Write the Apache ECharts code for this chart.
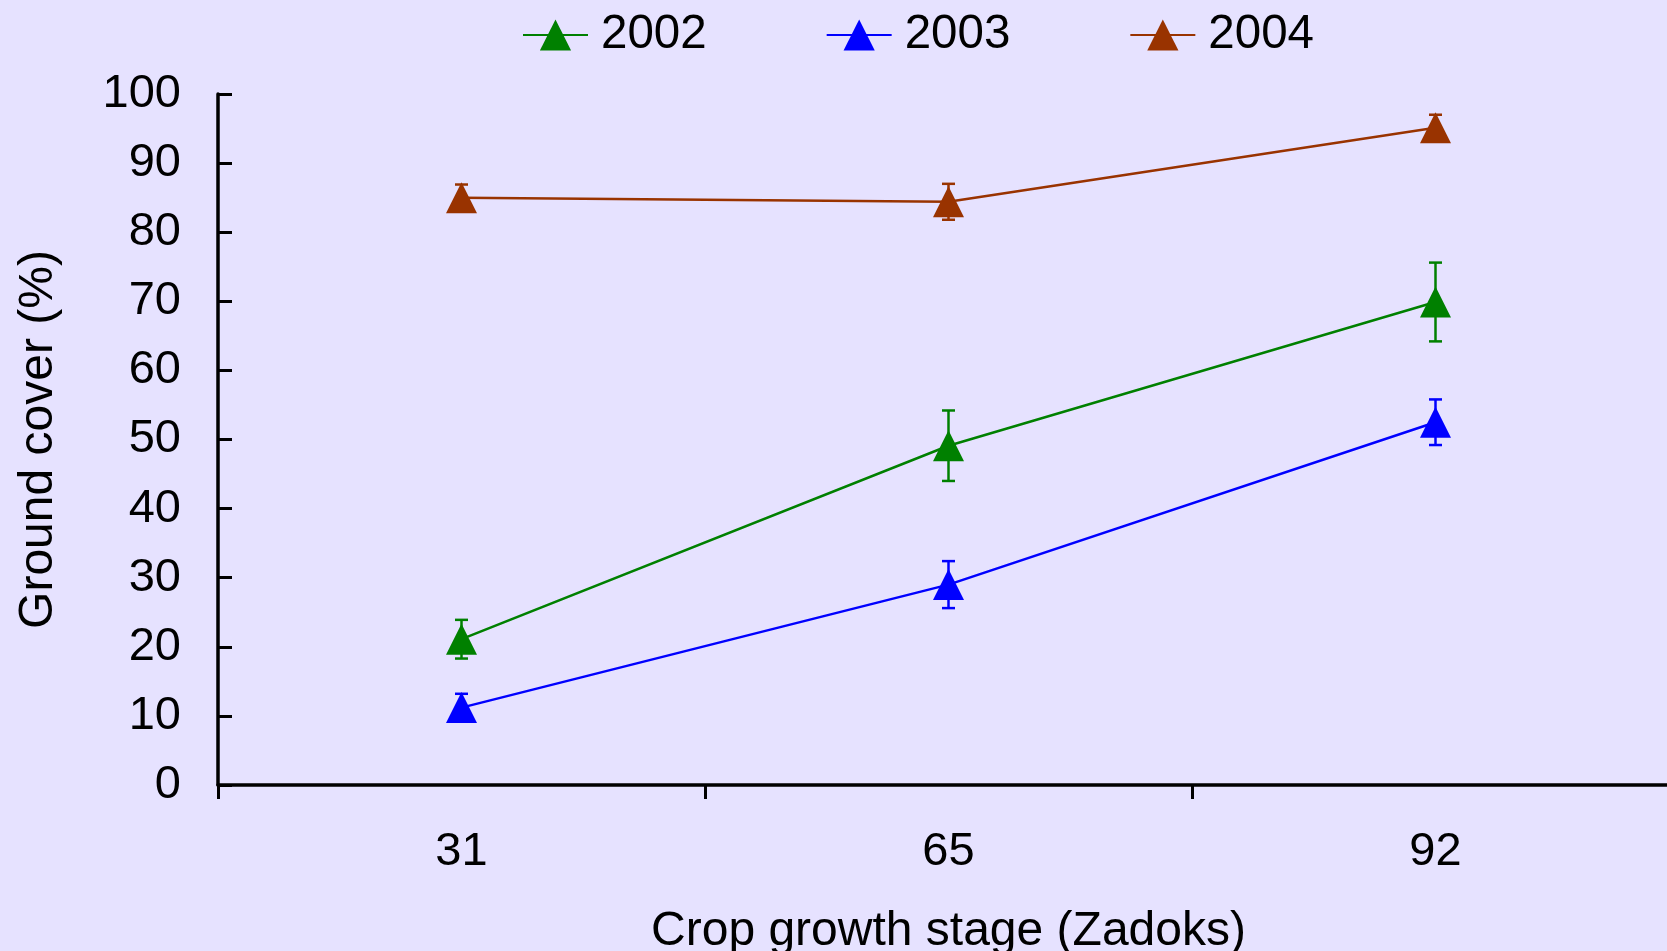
<!DOCTYPE html>
<html>
<head>
<meta charset="utf-8">
<title>Ground cover by crop growth stage</title>
<script src="https://cdn.jsdelivr.net/npm/echarts@6/dist/echarts.min.js"></script>
<style>
  html, body { margin: 0; padding: 0; background: #E6E2FF; }
  #chart { width: 1667px; height: 951px; }
</style>
</head>
<body>
<div id="chart"></div>
<script>
// Zadoks growth stages on the x axis
const stages = ['31', '65', '92'];

// Mean ground cover (%) per season, with the error-bar half widths
const years = ['2002', '2003', '2004'];
const cover2002 = [21.1, 49.1, 69.9];
const err2002 = [2.8, 5.1, 5.7];
const cover2003 = [11.2, 29.0, 52.5];
const err2003 = [2.0, 3.4, 3.3];
const cover2004 = [85.0, 84.4, 95.1];
const err2004 = [1.9, 2.6, 1.9];

const yTicks = { min: 0, max: 100, interval: 10 };

const colors = ['#008000', '#0000FF', '#993300'];
const FONT = "'Liberation Sans', Arial, sans-serif";

const seriesValues = [cover2002, cover2003, cover2004];
const seriesErrors = [err2002, err2003, err2004];

function errorRows(values, errors) {
  return values.map(function (v, i) { return [i, v - errors[i], v + errors[i]]; });
}

function errorBarSeries(name, color, values, errors) {
  return {
    type: 'custom',
    name: name + ' error',
    z: 1,
    silent: true,
    data: errorRows(values, errors),
    encode: { x: 0, y: [1, 2] },
    renderItem: function (params, api) {
      const lo = api.coord([api.value(0), api.value(1)]);
      const hi = api.coord([api.value(0), api.value(2)]);
      const half = 6.5;
      const style = { stroke: color, lineWidth: 2.5 };
      return {
        type: 'group',
        children: [
          { type: 'line', shape: { x1: hi[0], y1: hi[1], x2: lo[0], y2: lo[1] }, style: style },
          { type: 'line', shape: { x1: hi[0] - half, y1: hi[1], x2: hi[0] + half, y2: hi[1] }, style: style },
          { type: 'line', shape: { x1: lo[0] - half, y1: lo[1], x2: lo[0] + half, y2: lo[1] }, style: style }
        ]
      };
    }
  };
}

function lineSeries(name, color, values) {
  return {
    type: 'line',
    name: name,
    z: 3,
    data: values,
    symbol: 'triangle',
    symbolSize: 31,
    showSymbol: true,
    lineStyle: { color: color, width: 2.5 },
    itemStyle: { color: color },
    emphasis: { disabled: true }
  };
}

const series = [];
years.forEach(function (y, i) {
  series.push(errorBarSeries(y, colors[i], seriesValues[i], seriesErrors[i]));
});
years.forEach(function (y, i) {
  series.push(lineSeries(y, colors[i], seriesValues[i]));
});

const chart = echarts.init(document.getElementById('chart'), null, { renderer: 'canvas' });
chart.setOption({
  backgroundColor: '#E6E2FF',
  animation: false,
  textStyle: { fontFamily: FONT },
  legend: {
    data: years,
    left: 517,
    top: 6,
    itemWidth: 65,
    itemHeight: 39,
    itemGap: 119,
    textStyle: { fontFamily: FONT, fontSize: 47.5, color: '#000', padding: [0, 0, 0, 8] }
  },
  grid: {
    left: 218,
    right: -12,
    top: 94,
    bottom: 166,
    outerBoundsMode: 'none',
    containLabel: false
  },
  xAxis: {
    type: 'category',
    data: stages,
    boundaryGap: true,
    name: 'Crop growth stage (Zadoks)',
    nameLocation: 'middle',
    nameGap: 123,
    nameTextStyle: { fontFamily: FONT, fontSize: 48, color: '#000' },
    axisLine: { show: true, lineStyle: { color: '#000', width: 3.5 } },
    axisTick: { show: true, inside: false, length: 14, alignWithLabel: false, lineStyle: { color: '#000', width: 3 } },
    axisLabel: { fontFamily: FONT, fontSize: 47, color: '#000', margin: 44 },
    splitLine: { show: false }
  },
  yAxis: {
    type: 'value',
    min: yTicks.min,
    max: yTicks.max,
    interval: yTicks.interval,
    name: 'Ground cover (%)',
    nameLocation: 'middle',
    nameGap: 155,
    nameRotate: 90,
    nameTextStyle: { fontFamily: FONT, fontSize: 48, color: '#000' },
    axisLine: { show: true, lineStyle: { color: '#000', width: 3.5 } },
    axisTick: { show: true, inside: true, length: 14, lineStyle: { color: '#000', width: 3 } },
    axisLabel: { fontFamily: FONT, fontSize: 47, color: '#000', margin: 37, padding: [4, 0, 0, 0] },
    splitLine: { show: false }
  },
  series: series
});
</script>
</body>
</html>
